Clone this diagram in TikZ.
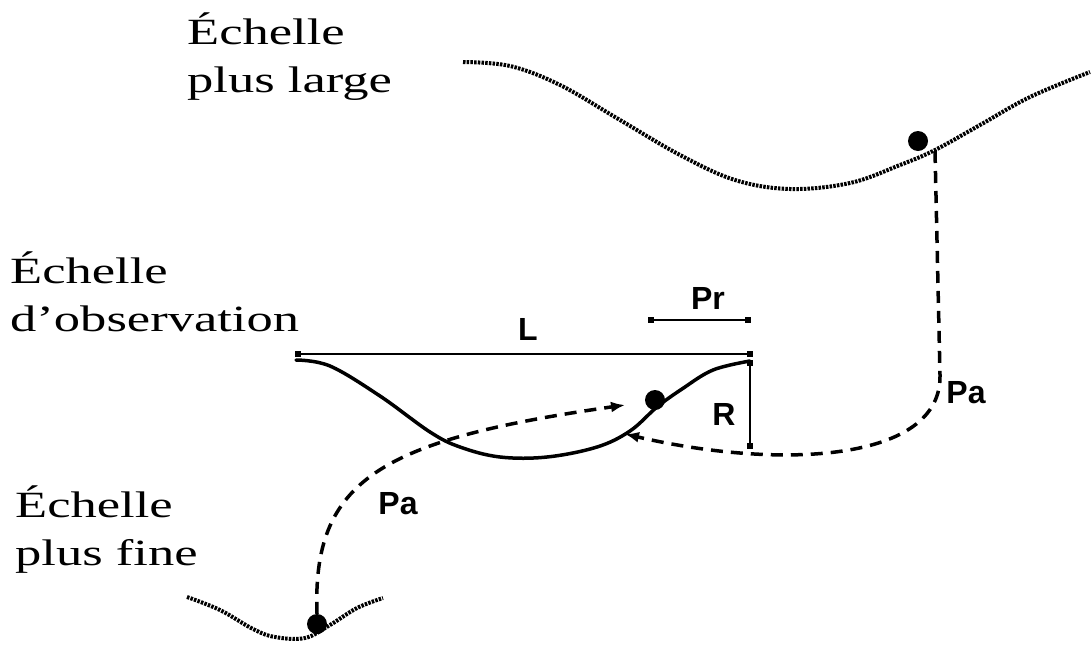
\documentclass[tikz,border=0pt]{standalone}
\usepackage{fontspec}
\setmainfont{Liberation Serif}[FakeStretch=1.42]
\newfontfamily\labfont{Liberation Sans}
\usetikzlibrary{arrows.meta}
\tikzset{
  scaletext/.style={anchor=north west, inner sep=0pt, align=left, font=\fontsize{37}{48}\selectfont},
  lab/.style={inner sep=0pt, font=\labfont\bfseries\fontsize{32}{36}\selectfont},
  texture/.style={line width=4pt, dash pattern=on 2.5pt off 1.2pt},
  obscurve/.style={line width=3.5pt, line cap=round, line join=round},
  measure/.style={line width=2pt},
  enddot/.style={fill=black, minimum size=6pt, inner sep=0pt, rectangle},
  bigdot/.style={circle, fill=black, minimum size=20pt, inner sep=0pt},
  dashlink/.style={line width=3.5pt, dash pattern=on 12pt off 8pt},
  tip/.style={-{Latex[length=14pt,width=11pt]}}
}
\begin{document}
\begin{tikzpicture}[x=1pt,y=-1pt]
\useasboundingbox (0,0) rectangle (1092,646);
% labels
\node[scaletext] (large) at (187,13) {Échelle\\plus large};
\node[scaletext] (obs) at (10,252) {Échelle\\d’observation};
\node[scaletext] (fine) at (15,486) {Échelle\\plus fine};
% top (wider scale) curve
\draw[texture] plot[smooth, tension=0.6] coordinates {(463,62) (510,66) (560,85) (620,120) (680,155) (735,180) (790,189) (850,183) (900,165) (935,150) (980,125) (1030,97) (1090,72)};
\node[bigdot] (pt) at (918,141) {};
\coordinate (ptc) at (935,151);
% bottom (finer scale) curve
\draw[texture] plot[smooth, tension=0.6] coordinates {(187,597) (220,610) (253,629) (275,637) (305,638) (330,625) (357,608) (383,598)};
\node[bigdot] (pb) at (317,624) {};
% observation curve
\draw[obscurve] plot[smooth, tension=0.6] coordinates {(296,360) (330,366) (380,396) (430,432) (460,447) (500,457) (547,457) (597,447) (630,431) (657,407) (682,389) (713,370) (750,361)};
\node[bigdot] (pm) at (655,400) {};
% measures
\node[enddot] (L1) at (298,354) {};
\node[enddot] (L2) at (750,354) {};
\draw[measure] (L1) -- (L2);
\node[lab] (Llab) at (528,329) {L};
\node[enddot] (P1) at (651,320) {};
\node[enddot] (P2) at (748,320) {};
\draw[measure] (P1) -- (P2);
\node[lab] (Prlab) at (708,298) {Pr};
\node[enddot] (R1) at (750,363) {};
\node[enddot] (R2) at (750,446) {};
\draw[measure] (R1) -- (R2);
\node[lab] (Rlab) at (724,414) {R};
% dashed links
\coordinate (la) at (625,405);
\coordinate (ra) at (625,434);
\draw[dashlink, tip] (pb.north) .. controls (312,480) and (380,440) .. (la);
\draw[dashlink, tip] (ptc) -- (940,375) .. controls (942,462) and (780,470) .. (ra);
\node[lab] (Pa1) at (966,393) {Pa};
\node[lab] (Pa2) at (398,504) {Pa};
\end{tikzpicture}
\end{document}
